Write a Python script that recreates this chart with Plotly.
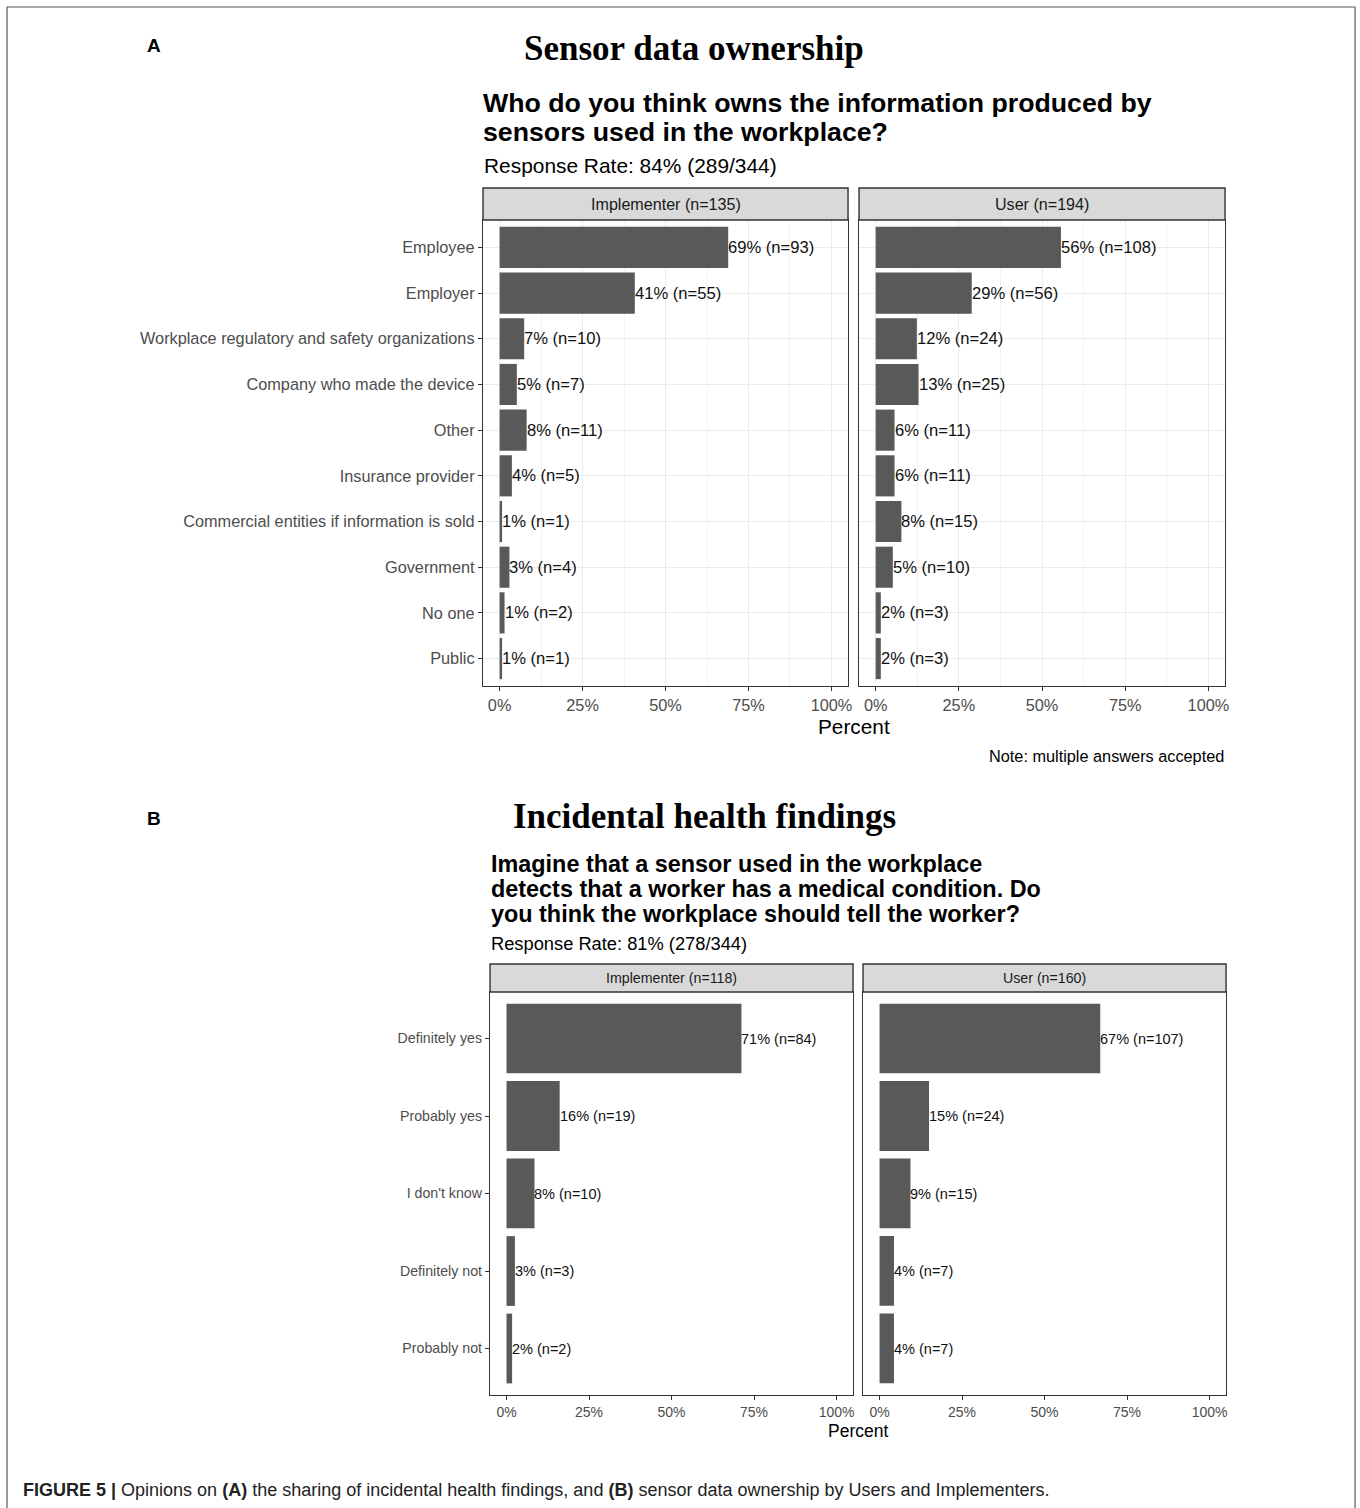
import plotly.graph_objects as go

W, H = 1360, 1508
SX = 1.003  # compensates slight horizontal squeeze of the capture

# ---------------- data ----------------
owner_categories = [
    "Employee", "Employer", "Workplace regulatory and safety organizations",
    "Company who made the device", "Other", "Insurance provider",
    "Commercial entities if information is sold", "Government", "No one", "Public",
]
owner_impl_n = [93, 55, 10, 7, 11, 5, 1, 4, 2, 1]
owner_user_n = [108, 56, 24, 25, 11, 11, 15, 10, 3, 3]
owner_impl_total = 135
owner_user_total = 194

health_categories = ["Definitely yes", "Probably yes", "I don't know", "Definitely not", "Probably not"]
health_impl_n = [84, 19, 10, 3, 2]
health_user_n = [107, 24, 15, 7, 7]
health_impl_total = 118
health_user_total = 160

x_tick_values = [0, 25, 50, 75, 100]
x_tick_labels = ["0%", "25%", "50%", "75%", "100%"]

SANS = "Liberation Sans, Arial, sans-serif"
SERIF = "Liberation Serif, Times New Roman, serif"
BAR = "#595959"
DARK = "#333333"
GRID = "#EBEBEB"


def px(x):
    return min(x * SX / W, 1.0)


def py(y):
    return 1 - y / H


def pct(ns, total):
    return [n / total * 100 for n in ns]


def label(ns, total):
    return [f"{int(n / total * 100 + 0.5)}% (n={n})" for n in ns]


fig = go.Figure()
annotations = []
shapes = []

# facet definitions
facets = [
    ("", owner_categories, owner_impl_n, owner_impl_total, (483, 848), (220, 686), True, True, 16.3, 16.6, 16.3),
    ("2", owner_categories, owner_user_n, owner_user_total, (859, 1225), (220, 686), True, False, 16.3, 16.6, 16.3),
    ("3", health_categories, health_impl_n, health_impl_total, (490, 853), (992, 1395), False, True, 14.2, 14.5, 14),
    ("4", health_categories, health_user_n, health_user_total, (863, 1226), (992, 1395), False, False, 14.2, 14.5, 14),
]

layout_axes = {}
for aid, cats, ns, tot, xd, yd, grid, first, tick_size, lab_size, xtick_size in facets:
    vals = pct(ns, tot)
    fig.add_trace(go.Bar(
        x=vals, y=cats, orientation="h", width=0.9,
        marker=dict(color=BAR, line=dict(width=0)),
        xaxis="x" + aid, yaxis="y" + aid, showlegend=False, hoverinfo="skip",
    ))
    for v, c, t in zip(vals, cats, label(ns, tot)):
        annotations.append(dict(
            x=v, y=c, xref="x" + aid, yref="y" + aid, text=t, showarrow=False,
            xanchor="left", yanchor="middle", xshift=-2,
            font=dict(family=SANS, size=lab_size, color="#111111"),
        ))
    layout_axes["xaxis" + aid] = dict(
        domain=[px(xd[0]), px(xd[1])], anchor="y" + aid, range=[-5, 105],
        tickvals=x_tick_values, ticktext=x_tick_labels,
        ticks="outside", ticklen=4, tickcolor=DARK, tickwidth=1,
        tickfont=dict(family=SANS, size=xtick_size, color="#4D4D4D"),
        showline=True, mirror=True, linecolor=DARK, linewidth=1.4,
        showgrid=grid, gridcolor=GRID, gridwidth=1, zeroline=False,
        minor=dict(tick0=12.5, dtick=25, showgrid=grid, gridcolor="#F2F2F2", gridwidth=0.6),
        fixedrange=True,
    )
    n = len(cats)
    layout_axes["yaxis" + aid] = dict(
        domain=[py(yd[1]), py(yd[0])], anchor="x" + aid,
        type="category", categoryorder="array", categoryarray=cats,
        range=[n - 0.4, -0.6],
        showticklabels=first, ticks="outside" if first else "", ticklen=4, tickcolor=DARK,
        tickfont=dict(family=SANS, size=tick_size, color="#4D4D4D"),
        showline=True, mirror=True, linecolor=DARK, linewidth=1.4,
        showgrid=grid, gridcolor=GRID, gridwidth=1, zeroline=False,
        fixedrange=True,
    )

# strips
strips = [
    ((483, 848), (188, 220), "Implementer (n=135)", 16.1),
    ((859, 1225), (188, 220), "User (n=194)", 16.1),
    ((490, 853), (964, 992), "Implementer (n=118)", 14.2),
    ((863, 1226), (964, 992), "User (n=160)", 14.2),
]
for xd, yd, txt, fs in strips:
    shapes.append(dict(type="rect", xref="paper", yref="paper",
                       x0=px(xd[0]), x1=px(xd[1]), y0=py(yd[1]), y1=py(yd[0]),
                       fillcolor="#D9D9D9", line=dict(color=DARK, width=1.4), layer="above"))
    annotations.append(dict(x=px((xd[0] + xd[1]) / 2), y=py((yd[0] + yd[1]) / 2),
                            xref="paper", yref="paper", text=txt, showarrow=False,
                            xanchor="center", yanchor="middle",
                            font=dict(family=SANS, size=fs, color="#1A1A1A")))


def text(x, y, t, size, family=SANS, color="#000000", xanchor="left", bold=False):
    annotations.append(dict(x=px(x), y=py(y), xref="paper", yref="paper",
                            text=f"<b>{t}</b>" if bold else t, showarrow=False,
                            xanchor=xanchor, yanchor="middle",
                            font=dict(family=family, size=size, color=color)))


# Panel A texts
text(145, 45, "A", 19, bold=True)
text(694, 49, "Sensor data ownership", 35, family=SERIF, xanchor="center", bold=True)
text(481, 103, "Who do you think owns the information produced by", 26.7, bold=True)
text(481, 132, "sensors used in the workplace?", 26.7, bold=True)
text(482, 166, "Response Rate: 84% (289/344)", 20.9)
text(854, 727, "Percent", 20.8, xanchor="center")
text(1226, 756, "Note: multiple answers accepted", 16.3, xanchor="right")

# Panel B texts
text(145, 818, "B", 19, bold=True)
text(704, 816, "Incidental health findings", 35, family=SERIF, xanchor="center", bold=True)
text(489, 864, "Imagine that a sensor used in the workplace", 23.4, bold=True)
text(489, 889, "detects that a worker has a medical condition. Do", 23.4, bold=True)
text(489, 914, "you think the workplace should tell the worker?", 23.4, bold=True)
text(489, 943, "Response Rate: 81% (278/344)", 18.3)
text(858, 1431, "Percent", 17.5, xanchor="center")

# caption
text(21, 1490,
     "<b>FIGURE 5 |</b> Opinions on <b>(A)</b> the sharing of incidental health findings, "
     "and <b>(B)</b> sensor data ownership by Users and Implementers.",
     18, color="#222222")

# outer frame
for x0, y0, x1, y1 in [(7, 7, 1355, 7), (7, 7, 7, 1508), (1355, 7, 1355, 1508)]:
    shapes.append(dict(type="line", xref="paper", yref="paper",
                       x0=px(x0), y0=py(y0), x1=px(x1), y1=py(y1),
                       line=dict(color="#555555", width=1.2)))

fig.update_layout(
    width=W, height=H, margin=dict(l=0, r=0, t=0, b=0),
    paper_bgcolor="white", plot_bgcolor="white",
    bargap=0.1, showlegend=False,
    annotations=annotations, shapes=shapes,
    **layout_axes,
)

fig.write_html(
    "out.html",
    config={"responsive": False, "displayModeBar": False},
    post_script=(
        "document.documentElement.style.margin='0';"
        "document.documentElement.style.overflow='hidden';"
        "document.body.style.margin='0';document.body.style.overflow='hidden';"
    ),
)
